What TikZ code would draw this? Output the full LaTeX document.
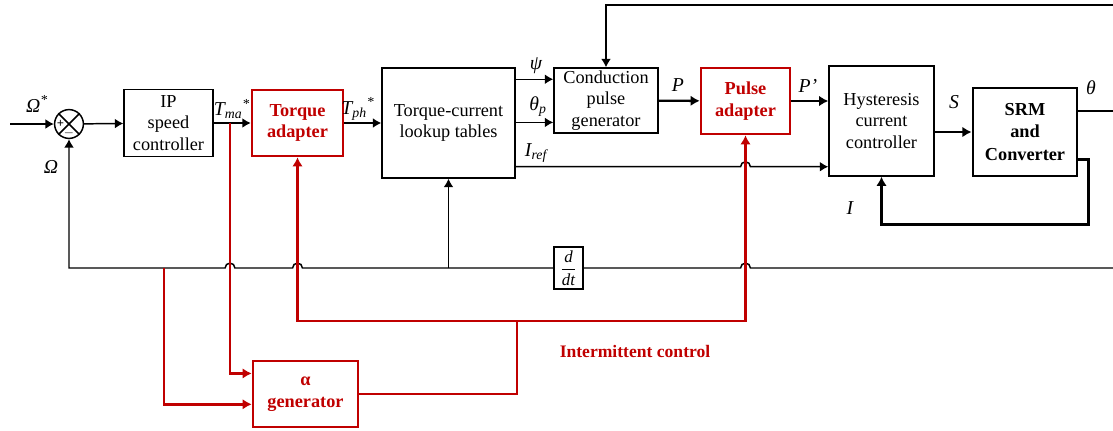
\documentclass[tikz,border=0pt]{standalone}
\usepackage{amsmath}
\usepackage{fontspec}
\setmainfont{Liberation Serif}
\usepackage{tikz}
\usepackage{xcolor}
\usetikzlibrary{arrows.meta,calc}
\definecolor{C1}{RGB}{192,0,0}

\begin{document}
\begin{tikzpicture}[
  x=0.025cm, y=-0.025cm,
  every node/.style = {font=\fontsize{13}{15.5}\selectfont},
  blkbox/.style = {
    rectangle, draw, line width=1pt,
    align=center, inner sep=1pt
  },
  redbox/.style = {
    rectangle, draw=C1, line width=1.8pt, text=C1,
    align=center, inner sep=1pt,
    font=\fontsize{13}{15.5}\selectfont\bfseries
  },
  srmbox/.style = {
    rectangle, draw, line width=2pt,
    align=center, inner sep=1pt,
    font=\fontsize{13}{16}\selectfont\bfseries
  },
  lbl/.style = {inner sep=0pt, font=\fontsize{14}{16}\selectfont\itshape},
  sgn/.style = {inner sep=0pt, font=\fontsize{9}{9}\selectfont\bfseries},
  ml/.style  = {line width=1.05pt},
  ma/.style  = {-{Latex[length=6pt,width=7pt]}, line width=1.05pt},
  ta/.style  = {-{Latex[length=6.5pt,width=7.5pt]}, line width=1.7pt},
  ra/.style  = {-{Latex[length=6.5pt,width=7.5pt]}, line width=1.8pt, C1},
  rl/.style  = {line width=1.8pt, C1}
]
\useasboundingbox (0,0) rectangle (1113,430);

%% ---------- Forward path ----------
\node[circle, draw, line width=1.05pt, minimum size=0.72cm, inner sep=0pt] (sum) at (69,124) {};
\draw[ml] (sum.north west) -- (sum.south east);
\draw[ml] (sum.north east) -- (sum.south west);
\node[sgn] (plus)  at ($(sum.center)+(-8.5,0)$) {+};
\node[sgn] (minus) at ($(sum.center)+(0,9)$) {$-$};

\node[blkbox, minimum width=2.225cm, minimum height=1.675cm] (ip) at (168.5,123)
    {IP\\speed\\controller};
\node[redbox, minimum width=2.275cm, minimum height=1.65cm] (tqa) at (297.5,123)
    {Torque\\adapter};
\node[blkbox, minimum width=3.325cm, minimum height=2.75cm] (lut) at (448.5,123)
    {Torque-current\\lookup tables};
\node[blkbox, minimum width=2.6cm, minimum height=1.625cm] (cpg) at (606,100.5)
    {Conduction\\pulse\\generator};
\node[redbox, minimum width=2.225cm, minimum height=1.65cm] (pa) at (745.5,101)
    {Pulse\\adapter};
\node[blkbox, minimum width=2.625cm, minimum height=2.75cm] (hcc) at (881.5,121)
    {Hysteresis\\current\\controller};
\node[srmbox, minimum width=2.6cm, minimum height=2.2cm] (srm) at (1025,132)
    {SRM\\and\\Converter};

%% ---------- Feedback and intermittent control ----------
\node[blkbox, minimum width=0.725cm, minimum height=1.05cm, inner sep=0pt] (ddt) at (568.5,268)
    {\fontsize{12}{12}\selectfont$\dfrac{\textit{d}}{\textit{dt}}$};
\node[redbox, minimum width=2.625cm, minimum height=1.65cm] (agen) at (305.5,394)
    {α\\generator};
\node[inner sep=0pt, text=C1, font=\fontsize{12.5}{14}\selectfont\bfseries] (ic) at (635,351)
    {Intermittent control};

%% ---------- Signal labels ----------
\node[lbl] (lOmS) at (37,104) {Ω\textsuperscript{*}};
\node[lbl] (lOm)  at (51,167) {Ω};
\node[lbl] (lTma) at (232,109) {T\textsubscript{ma}\textsuperscript{*}};
\node[lbl] (lTph) at (358,109) {T\textsubscript{ph}\textsuperscript{*}};
\node[lbl] (lpsi) at (536,66)  {ψ};
\node[lbl] (lthp) at (538,107) {θ\textsubscript{p}};
\node[lbl] (liref) at (536,153) {I\textsubscript{ref}};
\node[lbl] (lP)   at (678,85)  {P};
\node[lbl] (lPp)  at (808,86)  {P’};
\node[lbl] (lS)   at (954,102) {S};
\node[lbl] (lth)  at (1091,88) {θ};
\node[lbl] (lI)   at (850,208) {I};

%% ---------- Helper coordinates ----------
\coordinate (inL)   at (10,124);
\coordinate (topR)  at (1113,5);
\coordinate (thR)   at (1113,111);
\coordinate (fbR)   at (1113,268);
\coordinate (fbtap) at (164,268);
\coordinate (tma)   at ($(ip.east)!0.44!(tqa.west)$);
\coordinate (psiIn) at ($(cpg.north west)!0.18!(cpg.south west)$);
\coordinate (thpIn) at ($(cpg.north west)!0.83!(cpg.south west)$);
\coordinate (irefIn) at ([yshift=0.25cm]hcc.south west);
\coordinate (iout)  at ([yshift=0.45cm]srm.south east);
\coordinate (ain1)  at ($(agen.north west)!0.2!(agen.south west)$);
\coordinate (ain2)  at ($(agen.north west)!0.65!(agen.south west)$);
\coordinate (rjn)   at (517,321);

%% ---------- Arrows ----------
\draw[ma] (inL) -- (sum.west);
\draw[ma] (sum) -- (ip);
\draw[ma] (ip) -- (tqa);
\draw[ma] (tqa) -- (lut);
\draw[ma] (lut.east |- psiIn) -- (psiIn);
\draw[ma] (lut.east |- thpIn) -- (thpIn);
\draw[ma] (lut.east |- irefIn) -- ($(pa.south |- irefIn)+(-3.5pt,0)$)
    arc[start angle=180, end angle=0, radius=3.5pt] -- (irefIn);
\draw[ta] (cpg) -- (pa);
\draw[ta] (pa.east) -- (pa.east -| hcc.west);
\draw[ta] (hcc.east |- srm) -- (srm);
\draw[ml] (srm.east |- thR) -- (thR);
\draw[ma] (topR) -| (cpg.north);
\draw[ta] (iout) -- ++(10,0) -- ++(0,65) -| (hcc.south);

% speed feedback
\draw[ml] (fbR) -- ($(pa.south |- fbR)+(3.5pt,0)$)
    arc[start angle=0, end angle=180, radius=3.5pt] -- (ddt.east);
\draw[ma] (ddt.west) -- ($(tqa.south |- ddt)+(3.5pt,0)$)
    arc[start angle=0, end angle=180, radius=3.5pt] -- ($(tma |- ddt)+(3.5pt,0)$)
    arc[start angle=0, end angle=180, radius=3.5pt] -- (sum.south |- ddt) -- (sum.south);
\draw[ma] (lut.south |- ddt) -- (lut.south);

% intermittent control
\draw[ra] (tma) |- (ain1);
\draw[ra] (fbtap) |- (ain2);
\draw[rl] (agen.east) -| (rjn);
\draw[ra] (rjn) -| (tqa.south);
\draw[ra] (rjn) -| (pa.south);

\end{tikzpicture}
\end{document}
